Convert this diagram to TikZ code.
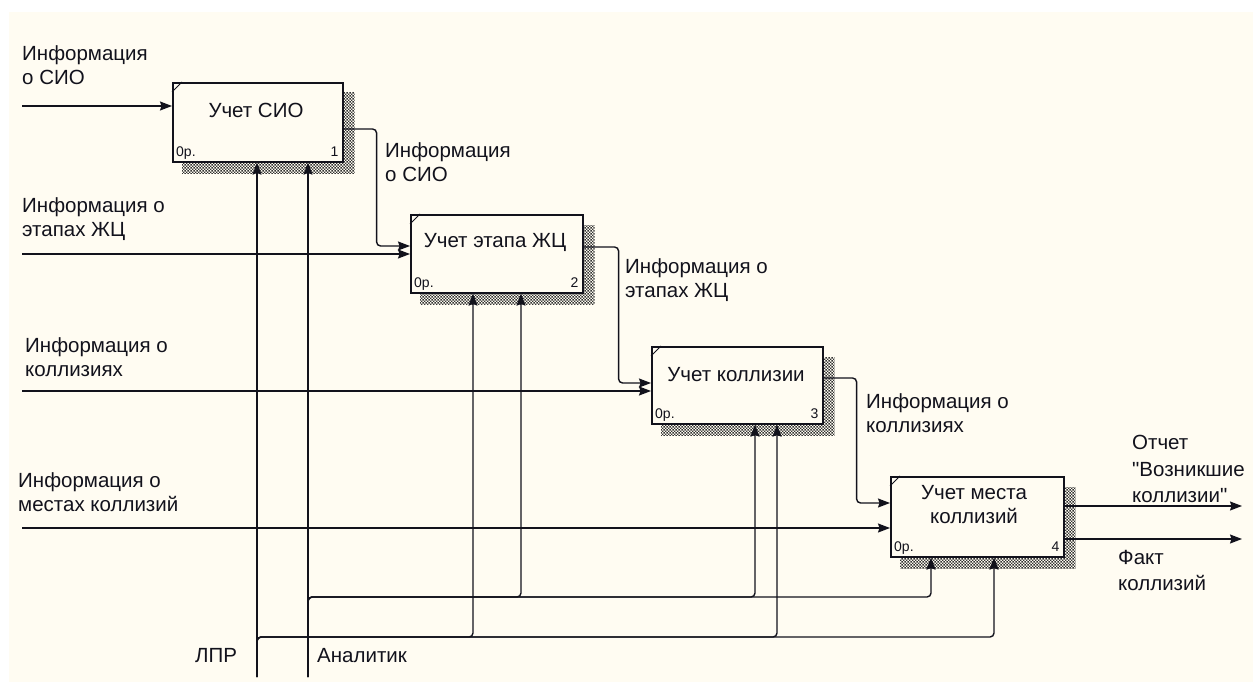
\documentclass[tikz,border=0pt]{standalone}
\usepackage{fontspec}
\setmainfont{Liberation Sans}[Ligatures=TeXOff]
\usetikzlibrary{arrows.meta,calc,patterns.meta,backgrounds}
\definecolor{paper}{RGB}{255,252,242}
\definecolor{ink}{RGB}{18,18,28}
% fine checkerboard used for the box shadows
\tikzdeclarepattern{
  name=shadechk, type=uncolored,
  bounding box={(0,0) and (3.4pt,3.4pt)},
  tile size={(3.4pt,3.4pt)},
  code={\fill (0,0) rectangle (1.7pt,1.7pt); \fill (1.7pt,1.7pt) rectangle (3.4pt,3.4pt);}
}
\begin{document}
\begin{tikzpicture}[x=1pt,y=-1pt,
  every node/.style={inner sep=0pt, text=ink},
  lbl/.style={anchor=north west, align=left, font=\fontsize{20.5}{24}\selectfont},
  boxtext/.style={anchor=north, align=center, font=\fontsize{20.5}{24}\selectfont},
  small/.style={font=\fontsize{14}{16}\selectfont},
  fnbox/.style={draw=ink, line width=1.6pt, fill=paper, anchor=north west},
  flow/.style={draw=ink, line width=1.4pt, -{Stealth[length=12pt,width=9pt,inset=1.5pt]}},
  shade/.style={pattern=shadechk, pattern color=black!80},
]
\useasboundingbox (0,0) rectangle (1253,682);

% function boxes
\node[fnbox, minimum width=170pt, minimum height=79pt] (b1) at (172,82) {};
\node[fnbox, minimum width=172pt, minimum height=78pt] (b2) at (410,214) {};
\node[fnbox, minimum width=171pt, minimum height=77pt] (b3) at (651,346) {};
\node[fnbox, minimum width=173pt, minimum height=80pt] (b4) at (890,476) {};

\begin{scope}[on background layer]
  \fill[white] (0,0) rectangle (1253,682);
  \fill[paper] (9,12) rectangle (1253,682);
  \foreach \b in {b1,b2,b3,b4}
    \fill[shade] ($(\b.north west)+(10,11)$) rectangle ($(\b.south east)+(11,11)$);
\end{scope}

% corner ticks
\foreach \b in {b1,b2,b3,b4}
  \draw[ink, line width=0.8pt] ($(\b.north west)+(0,10)$) -- ($(\b.north west)+(10,0)$);

% box titles
\node[boxtext] (t1) at ($(b1.north west)+(84,21)$) {Учет СИО};
\node[boxtext] (t2) at ($(b2.north west)+(85,19)$) {Учет этапа ЖЦ};
\node[boxtext] (t3) at ($(b3.north west)+(85,21)$) {Учет коллизии};
\node[boxtext] (t4) at ($(b4.north west)+(84,9)$) {Учет места\\коллизий};

% box footers
\foreach \b/\n in {b1/1,b2/2,b3/3,b4/4}{
  \node[small, anchor=base west] (\b o) at ($(\b.south west)+(4,-6)$) {0р.};
  \node[small, anchor=base east] (\b n) at ($(\b.south east)+(-5,-6)$) {\n};
}

% inputs from the left
\coordinate (i1) at (22,106);
\coordinate (i2) at (22,254);
\coordinate (i3) at (22,391);
\coordinate (i4) at (22,528);
\draw[flow] (i1) -- (i1 -| b1.west);
\draw[flow] (i2) -- (i2 -| b2.west);
\draw[flow] (i3) -- (i3 -| b3.west);
\draw[flow] (i4) -- (i4 -| b4.west);

% links between boxes
\draw[flow, rounded corners=4pt] ($(b1.north east)+(0,47)$) -- ++(33,0) |- ($(b2.north west)+(0,32)$);
\draw[flow, rounded corners=4pt] ($(b2.north east)+(0,33)$) -- ++(35,0) |- ($(b3.north west)+(0,37)$);
\draw[flow, rounded corners=4pt] ($(b3.north east)+(0,32)$) -- ++(33,0) |- ($(b4.north west)+(0,27)$);

% outputs
\coordinate (r1) at (1242,506);
\coordinate (r2) at (1242,539);
\draw[flow] (r1 -| b4.east) -- (r1);
\draw[flow] (r2 -| b4.east) -- (r2);

% mechanisms
\coordinate (lpr) at (257,677);
\coordinate (anl) at (308,677);
\coordinate (busL) at (0,637);
\coordinate (busA) at (0,597);
\coordinate (b2m1) at ($(b2.south west)+(63,0)$);
\coordinate (b2m2) at ($(b2.south west)+(111,0)$);
\coordinate (b3m1) at ($(b3.south west)+(104,0)$);
\coordinate (b3m2) at ($(b3.south west)+(126,0)$);
\coordinate (b4m1) at ($(b4.south west)+(41,0)$);
\coordinate (b4m2) at ($(b4.south west)+(104,0)$);
\draw[flow] (lpr) -- (lpr |- b1.south);
\draw[flow] (anl) -- (anl |- b1.south);
\draw[flow, rounded corners=4pt] (lpr) |- (b2m1 |- busL) -- (b2m1);
\draw[flow, rounded corners=4pt] (lpr) |- (b3m2 |- busL) -- (b3m2);
\draw[flow, rounded corners=4pt] (lpr) |- (b4m2 |- busL) -- (b4m2);
\draw[flow, rounded corners=4pt] (anl) |- (b2m2 |- busA) -- (b2m2);
\draw[flow, rounded corners=4pt] (anl) |- (b3m1 |- busA) -- (b3m1);
\draw[flow, rounded corners=4pt] (anl) |- (b4m1 |- busA) -- (b4m1);

% arrow labels
\node[lbl] (l1) at (22,45) {Информация\\о СИО};
\node[lbl] (l2) at (22,197) {Информация о\\этапах ЖЦ};
\node[lbl] (l3) at (25,337) {Информация о\\коллизиях};
\node[lbl] (l4) at (18,472) {Информация о\\местах коллизий};
\node[lbl] (l5) at (385,142) {Информация\\о СИО};
\node[lbl] (l6) at (625,258) {Информация о\\этапах ЖЦ};
\node[lbl] (l7) at (866,393) {Информация о\\коллизиях};
\node[lbl, font=\fontsize{20.5}{26.5}\selectfont] (l8) at (1132,435) {Отчет\\"Возникшие\\коллизии"};
\node[lbl, font=\fontsize{20.5}{26.5}\selectfont] (l9) at (1118,550) {Факт\\коллизий};
\node[lbl] (l10) at (195,648) {ЛПР};
\node[lbl] (l11) at (317,648) {Аналитик};
\end{tikzpicture}
\end{document}
